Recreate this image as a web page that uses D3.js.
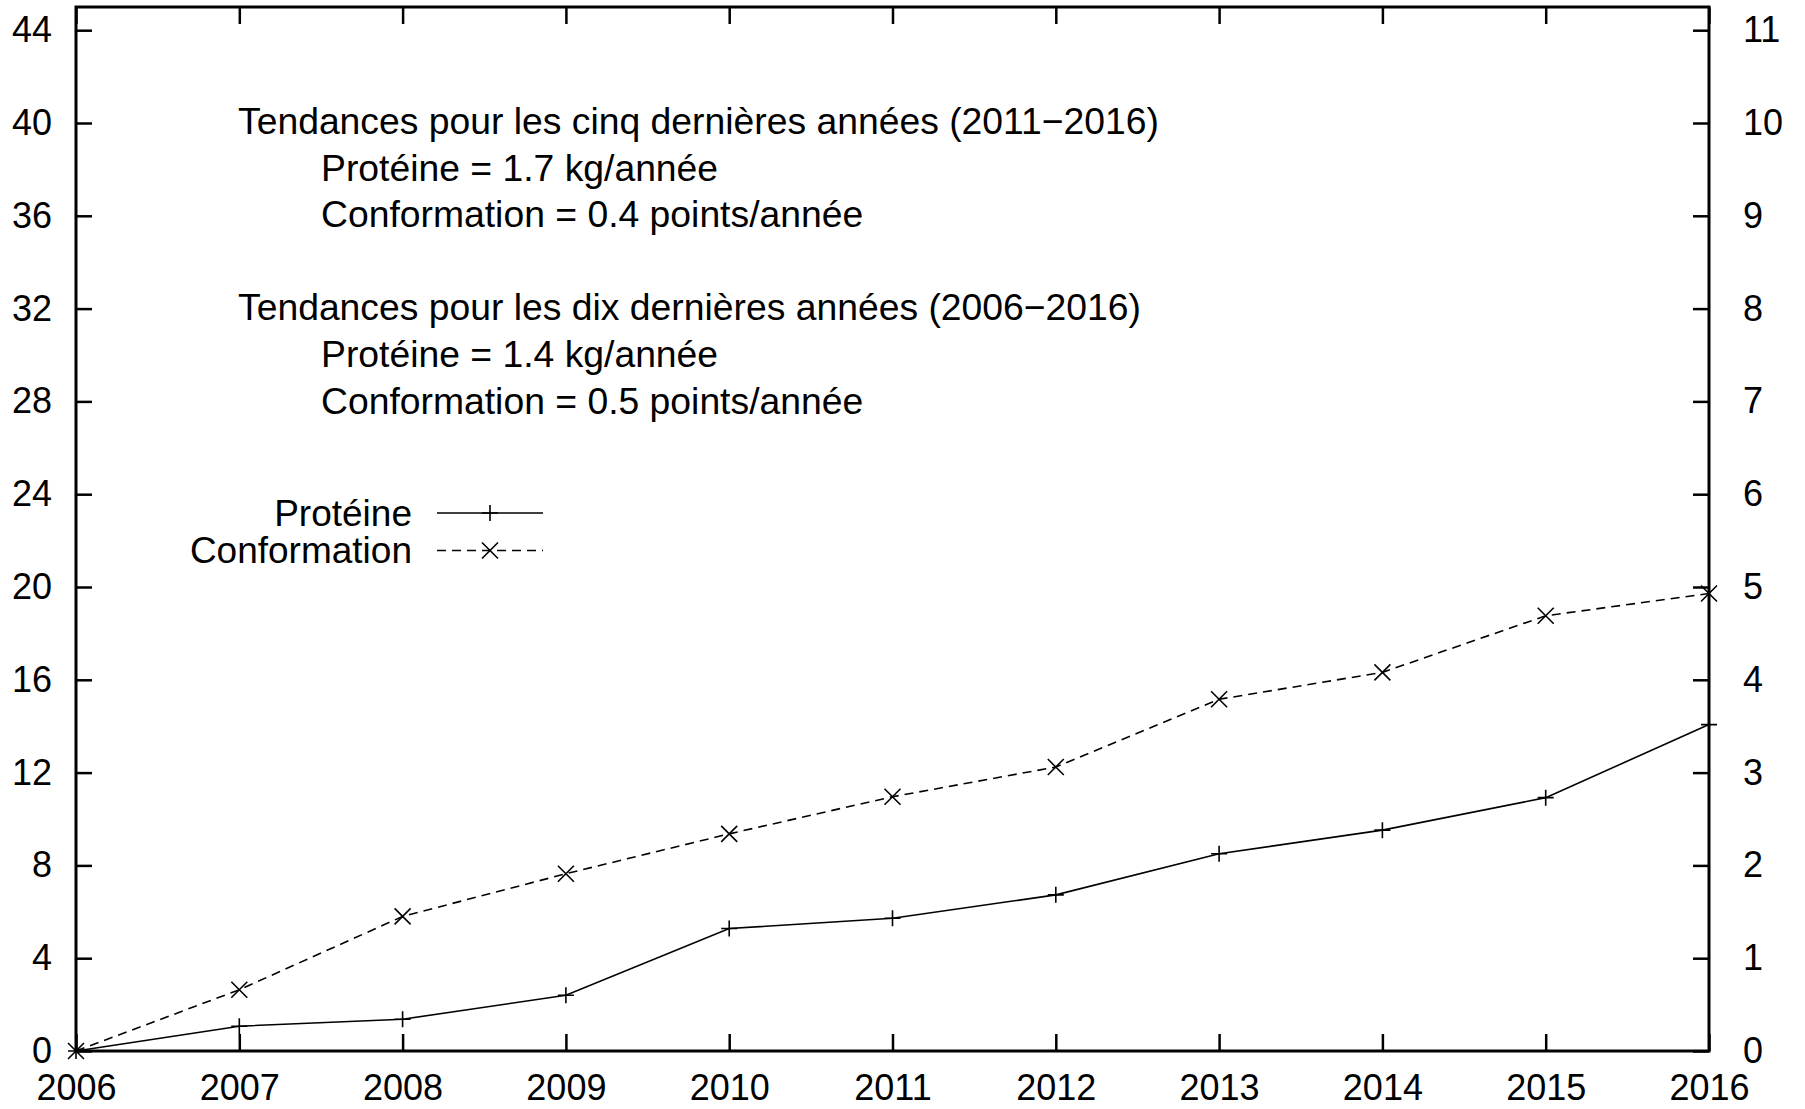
<!DOCTYPE html>
<html>
<head>
<meta charset="utf-8">
<script src="https://cdn.jsdelivr.net/npm/d3@7"></script>
<style>
	body { margin: 0; background: #fff; }
	svg { display: block; }
	text { font-family: "Liberation Sans", Arial, sans-serif; font-size: 37px; fill: #000; }
</style>
</head>
<body>
<svg id="chart" width="1805" height="1109"></svg>
<script>

var years = [2006, 2007, 2008, 2009, 2010, 2011, 2012, 2013, 2014, 2015, 2016];

// kg, left axis
var proteine = [0, 1.07, 1.37, 2.4, 5.28, 5.72, 6.73, 8.5, 9.52, 10.92, 14.07];

// points, right axis
var conformation = [0, 0.66, 1.45, 1.91, 2.34, 2.74, 3.06, 3.79, 4.08, 4.69, 4.93];

var leftTicks = [0, 4, 8, 12, 16, 20, 24, 28, 32, 36, 40, 44];
var rightTicks = [0, 1, 2, 3, 4, 5, 6, 7, 8, 9, 10, 11];

var notes = [
	"Tendances pour les cinq dernières années (2011\u22122016)",
	"Protéine = 1.7 kg/année",
	"Conformation = 0.4 points/année",
	"",
	"Tendances pour les dix dernières années (2006\u22122016)",
	"Protéine = 1.4 kg/année",
	"Conformation = 0.5 points/année"
];
var noteIndent = [false, true, true, false, false, true, true];

var legendNames = ["Protéine", "Conformation"];

var margin = {
	top: 7,
	right: 96,
	bottom: 58,
	left: 76
};

function draw()	{

	var svg = d3.select("#chart");
	var width = 1805 - margin.left - margin.right;
	var height = 1109 - margin.top - margin.bottom;

	var g = svg.append("g")
		.attr("transform", `translate(${margin.left},${margin.top})`);

	var x = d3.scaleLinear().domain([2006, 2016]).range([0, width]);
	var yl = d3.scaleLinear().domain([0, 45]).range([height, 0]);
	var yr = d3.scaleLinear().domain([0, 11.25]).range([height, 0]);

	var axes = [
		{ a: d3.axisLeft(yl).tickValues(leftTicks).tickSizeInner(-16).tickSizeOuter(0).tickPadding(24), t: "" },
		{ a: d3.axisRight(yr).tickValues(rightTicks).tickSizeInner(-16).tickSizeOuter(0).tickPadding(34), t: `translate(${width},0)` },
		{ a: d3.axisBottom(x).tickValues(years).tickFormat(d3.format("d")).tickSizeInner(-17).tickSizeOuter(0).tickPadding(23), t: `translate(0,${height})` },
		{ a: d3.axisTop(x).tickValues(years).tickFormat("").tickSizeInner(-17).tickSizeOuter(0), t: "" }
	];

	axes.forEach( ax => {
		var ag = g.append("g")
			.attr("transform", ax.t)
			.call(ax.a);
		ag.select(".domain").remove();
		ag.selectAll(".tick line")
			.attr("stroke", "#000")
			.attr("stroke-width", 2.5);
		ag.selectAll(".tick text")
			.attr("fill", "#000")
			.style("font-size", "36px")
			.style("font-family", "'Liberation Sans', Arial, sans-serif");
	});

	g.append("rect")
		.attr("width", width)
		.attr("height", height)
		.attr("fill", "none")
		.attr("stroke", "#000")
		.attr("stroke-width", 3);

	var lineP = d3.line()
		.x( (d, i) => x(years[i]) )
		.y( d => yl(d) );
	var lineC = d3.line()
		.x( (d, i) => x(years[i]) )
		.y( d => yr(d) );

	g.append("path")
		.attr("d", lineP(proteine))
		.attr("fill", "none")
		.attr("stroke", "#000")
		.attr("stroke-width", 1.6);

	g.append("path")
		.attr("d", lineC(conformation))
		.attr("fill", "none")
		.attr("stroke", "#000")
		.attr("stroke-width", 1.6)
		.attr("stroke-dasharray", "9,6");

	function plusMark(sel, cx, cy)	{
		sel.append("path")
			.attr("d", `M${cx - 8},${cy}H${cx + 8}M${cx},${cy - 8}V${cy + 8}`)
			.attr("stroke", "#000")
			.attr("stroke-width", 1.6);
	}
	function crossMark(sel, cx, cy)	{
		sel.append("path")
			.attr("d", `M${cx - 8},${cy - 8}L${cx + 8},${cy + 8}M${cx - 8},${cy + 8}L${cx + 8},${cy - 8}`)
			.attr("stroke", "#000")
			.attr("stroke-width", 1.6);
	}

	proteine.forEach( (d, i) => plusMark(g, x(years[i]), yl(d)) );
	conformation.forEach( (d, i) => crossMark(g, x(years[i]), yr(d)) );

	// annotations
	notes.forEach( (s, i) => {
		if(s.length === 0)
			return;
		svg.append("text")
			.attr("x", noteIndent[i] ? 321 : 238)
			.attr("y", 134 + i * 46.6)
			.style("font-size", "37.3px")
			.text(s);
	});

	// legend
	legendNames.forEach( (s, i) => {
		var ly = 513 + i * 37.5;
		svg.append("text")
			.attr("x", 412)
			.attr("y", ly + 12.5)
			.attr("text-anchor", "end")
			.text(s);
		var l = svg.append("line")
			.attr("x1", 437)
			.attr("x2", 543)
			.attr("y1", ly)
			.attr("y2", ly)
			.attr("stroke", "#000")
			.attr("stroke-width", 1.6);
		if(i === 1)	{
			l.attr("stroke-dasharray", "9,6");
			crossMark(svg, 490, ly);
		}	else	{
			plusMark(svg, 490, ly);
		}
	});

}

draw();

</script>
</body>
</html>
